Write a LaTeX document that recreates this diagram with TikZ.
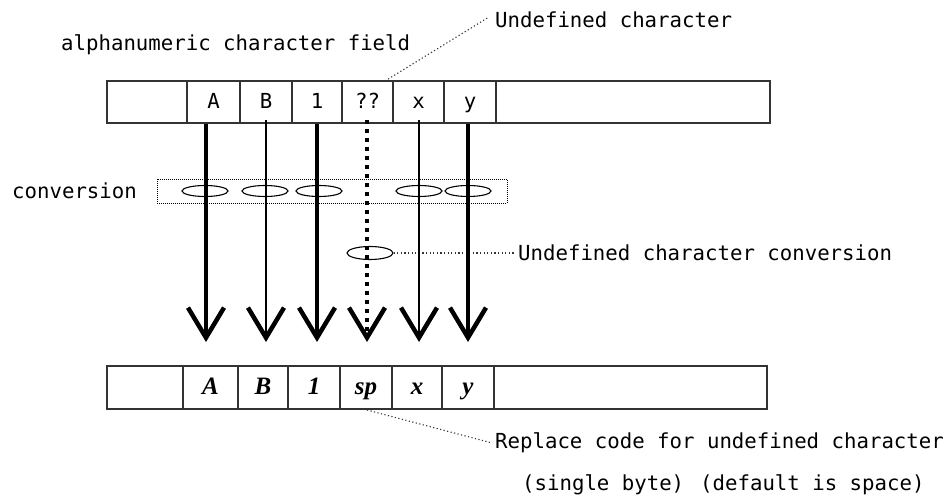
\documentclass[tikz,border=0pt]{standalone}
\usepackage{fontspec}
\usetikzlibrary{arrows.meta,shapes.geometric}
\newfontfamily\lblfont{DejaVu Sans Mono}
\newfontfamily\celfont{Liberation Serif}
\definecolor{boxline}{HTML}{333333}
\definecolor{leadc}{HTML}{333333}
\begin{document}
\begin{tikzpicture}[x=1pt,y=-1pt,
  lbl/.style={font=\lblfont\fontsize{20.7}{24}\selectfont, inner sep=0pt},
  topcell/.style={draw=boxline, line width=1.5pt, minimum height=42pt, inner sep=0pt,
     font=\lblfont\fontsize{20.7}{24}\selectfont, text height=13pt, text depth=0pt},
  botcell/.style={draw=boxline, line width=1.5pt, minimum height=43pt, inner sep=0pt,
     font=\celfont\bfseries\itshape\fontsize{25}{27}\selectfont, text height=15pt, text depth=2pt},
  conv/.style={ellipse, draw=black, line width=1.1pt, minimum width=46pt, minimum height=11pt, inner sep=0pt},
  bigarrow/.style={line width=#1, -{Straight Barb[length=30pt, width=36pt, line width=4.5pt]}},
  leader/.style={draw=leadc, line width=1.1pt, dash pattern=on 1.2pt off 2.4pt},
]
\useasboundingbox (0,0) rectangle (951,498);

% top row
\node[topcell, minimum width=80pt] (t0) at (147,102) {};
\node[topcell, minimum width=53pt] (t1) at (213.5,102) {A};
\node[topcell, minimum width=52pt] (t2) at (266,102) {B};
\node[topcell, minimum width=50pt] (t3) at (317,102) {1};
\node[topcell, minimum width=51pt] (t4) at (367.5,102) {??};
\node[topcell, minimum width=51pt] (t5) at (418.5,102) {x};
\node[topcell, minimum width=52pt] (t6) at (470,102) {y};
\node[topcell, minimum width=274pt] (t7) at (633,102) {};

% bottom row
\node[botcell, minimum width=76pt] (b0) at (145,387.5) {};
\node[botcell, minimum width=55pt] (b1) at (210.5,387.5) {A};
\node[botcell, minimum width=50pt] (b2) at (263,387.5) {B};
\node[botcell, minimum width=52pt] (b3) at (314,387.5) {1};
\node[botcell, minimum width=52pt] (b4) at (366,387.5) {sp};
\node[botcell, minimum width=50pt] (b5) at (417,387.5) {x};
\node[botcell, minimum width=52pt] (b6) at (468,387.5) {y};
\node[botcell, minimum width=273pt] (b7) at (630.5,387.5) {};

% labels
\node[lbl, anchor=west] (fld) at (61,45) {alphanumeric character field};
\node[lbl, anchor=west] (und) at (495,20) {Undefined character};
\node[lbl, anchor=west] (cvl) at (12,191) {conversion};
\node[lbl, anchor=west] (ucl) at (518,253) {Undefined character conversion};
\node[lbl, anchor=west] (rp1) at (495,443) {Replace code for undefined character};
\node[lbl, anchor=west] (rp2) at (522,485) {(single byte)};
\node[lbl, anchor=west] (rp3) at (700,485) {(default is space)};

% conversion box and ellipses
\node[draw=black, line width=1pt, dash pattern=on 1pt off 1pt, minimum width=350pt, minimum height=24pt, inner sep=0pt] (cbox) at (332,191) {};
\node[conv] (c1) at (205,191) {};
\node[conv] (c2) at (265,191) {};
\node[conv] (c3) at (319,191) {};
\node[conv] (c5) at (419,191) {};
\node[conv] (c6) at (468,191) {};
\node[conv, minimum height=13pt] (uc) at (370,253) {};

% leaders
\coordinate (ua) at (385,81);
\draw[leader] (ua) -- ([xshift=-6pt,yshift=3pt]und.west);
\draw[leader] (uc.east) -- ([xshift=-3pt]ucl.west);
\coordinate (ra) at (367,410);
\draw[leader] (ra) -- ([xshift=-3pt]rp1.west);

% arrow tips
\coordinate (e1) at (206,342);
\coordinate (e2) at (266,342);
\coordinate (e3) at (317,342);
\coordinate (e4) at (367,342);
\coordinate (e5) at (419,342);
\coordinate (e6) at (468,342);

% arrows
\draw[bigarrow=4pt] (t1.south -| e1) -- (e1);
\draw[bigarrow=2.6pt] ([yshift=4pt]t2.south -| e2) -- (e2);
\draw[bigarrow=3.6pt] (t3.south -| e3) -- (e3);
\draw[bigarrow=4pt, dash pattern=on 4pt off 5pt] ([yshift=4pt]t4.south -| e4) -- (e4);
\draw[bigarrow=2.6pt] ([yshift=4pt]t5.south -| e5) -- (e5);
\draw[bigarrow=4.2pt] (t6.south -| e6) -- (e6);
\end{tikzpicture}
\end{document}
